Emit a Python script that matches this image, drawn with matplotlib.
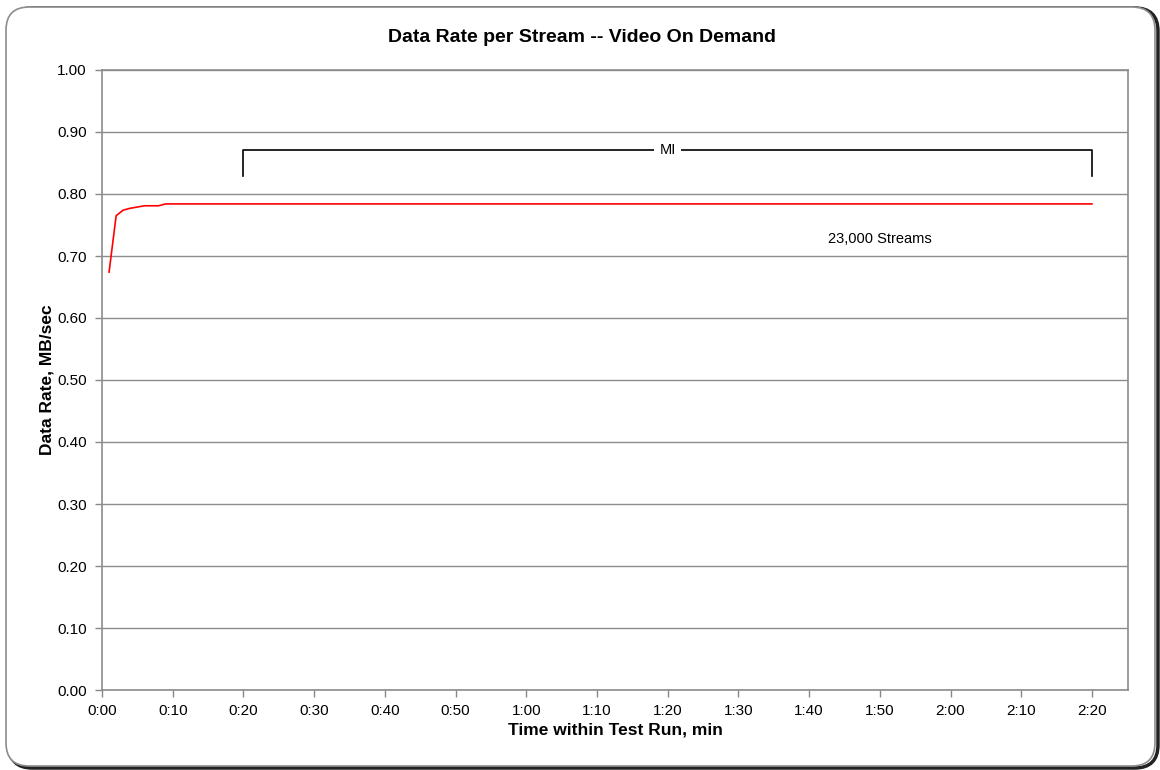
import matplotlib.pyplot as plt
from matplotlib.patches import FancyBboxPatch

plt.rcParams['font.family'] = ['Liberation Sans', 'DejaVu Sans']

# minutes into the run and data rate per stream (MB/sec)
minutes = [1, 2, 3, 4, 5, 6, 7, 8, 9, 10, 20, 30, 40, 50, 60, 70, 80, 90,
           100, 110, 120, 130, 140]
rate = [0.674, 0.765, 0.774, 0.777, 0.779, 0.781, 0.781, 0.781, 0.784, 0.784,
        0.784, 0.784, 0.784, 0.784, 0.784, 0.784, 0.784, 0.784, 0.784, 0.784,
        0.784, 0.784, 0.784]

x_ticks = list(range(0, 141, 10))
x_labels = [f"{m // 60}:{m % 60:02d}" for m in x_ticks]
y_ticks = [0.0, 0.1, 0.2, 0.3, 0.4, 0.5, 0.6, 0.7, 0.8, 0.9, 1.0]

mi_start, mi_end = 20, 140
mi_top, mi_bottom = 0.871, 0.829
streams_label = "23,000 Streams"

W, H = 1160, 770
fig = plt.figure(figsize=(W / 100, H / 100), dpi=100)
ax = fig.add_axes([102 / W, 80 / H, 1026 / W, 620 / H])

# rounded chart frame with a dark shadow at bottom right
box = dict(boxstyle="round,pad=0,rounding_size=0.02", transform=fig.transFigure,
           mutation_aspect=W / H)
shadow = FancyBboxPatch((9 / W, 2 / H), 1149 / W, 760 / H, facecolor='none',
                        edgecolor='#222222', linewidth=2.5, zorder=-2, **box)
frame = FancyBboxPatch((6 / W, 4 / H), 1149 / W, 759 / H, facecolor='white',
                       edgecolor='#8c8c8c', linewidth=1.2, zorder=-1, **box)
fig.patches.extend([shadow, frame])
fig.patch.set_facecolor('white')

ax.plot(minutes, rate, color='#ff0000', linewidth=1.2, zorder=3)

ax.set_xlim(0, 145.1)
ax.set_ylim(0, 1.0)
ax.set_xticks(x_ticks)
ax.set_xticklabels(x_labels)
ax.set_yticks(y_ticks)
ax.set_yticklabels([f"{v:.2f}" for v in y_ticks])
ax.tick_params(axis='both', direction='out', length=5, width=1, color='#888888',
               labelsize=11)
ax.tick_params(axis='x', pad=5)
ax.tick_params(axis='y', pad=6)
ax.grid(axis='y', color='#8c8c8c', linewidth=1)
ax.set_axisbelow(True)
for s in ax.spines.values():
    s.set_color('#8c8c8c')
    s.set_linewidth(1.2)

fig.text(0.502, 1 - 38 / H, "Data Rate per Stream -- Video On Demand", fontsize=14,
         fontweight='bold', ha='center', va='center')
ax.set_xlabel("Time within Test Run, min", fontsize=12.5, fontweight='bold', labelpad=3)
ax.set_ylabel("Data Rate, MB/sec", fontsize=12.5, fontweight='bold', labelpad=2)

# measurement interval bracket
ax.plot([mi_start, mi_start, mi_end, mi_end], [mi_bottom, mi_top, mi_top, mi_bottom],
        color='black', linewidth=1.2, zorder=3)
ax.text((mi_start + mi_end) / 2, mi_top, "MI", ha='center', va='center', fontsize=10.5,
        bbox=dict(facecolor='white', edgecolor='none', pad=4), zorder=4)

ax.text(110, 0.728, streams_label, ha='center', va='center', fontsize=10.5)

fig.savefig("out.png", dpi=100, facecolor='white')
